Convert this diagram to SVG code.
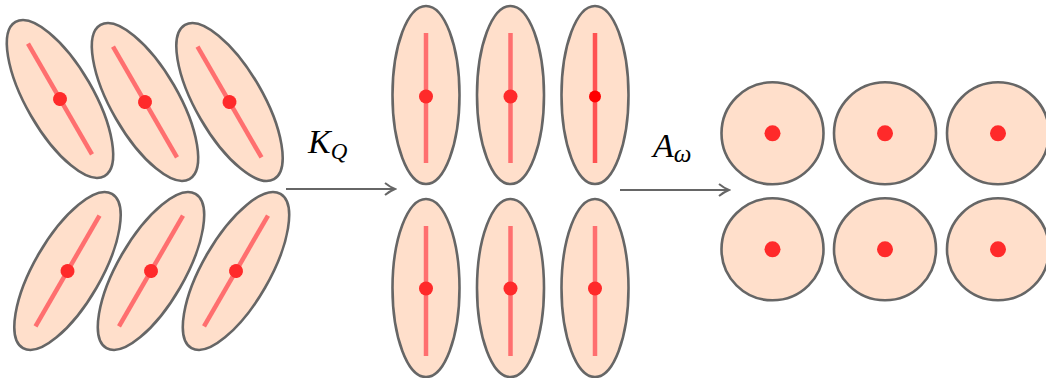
<svg xmlns="http://www.w3.org/2000/svg" width="1046" height="378" viewBox="0 0 1046 378">
<defs>
<style>
.cell{fill:#ffdfcb;stroke:#666;stroke-width:2.6}
.axis{stroke:#ff6f6f;stroke-width:4.5;fill:none}
.dot{fill:#ff2a2a}
.conn{stroke:#666;stroke-width:2;fill:none}
.lbl{font-family:"Liberation Serif","DejaVu Serif",serif;font-style:italic;fill:#000}
</style>
<marker id="arr" markerWidth="14" markerHeight="14" refX="12" refY="7" orient="auto" markerUnits="userSpaceOnUse">
<path d="M2,1 Q7,5 12,7 Q7,9 2,13" fill="none" stroke="#666" stroke-width="2"/>
</marker>
</defs>
<rect width="1046" height="378" fill="#fff"/>
<g id="tl1" transform="translate(60,99) rotate(-30)"><ellipse class="cell" rx="33.5" ry="89"/><line class="axis" x1="0" y1="-64" x2="0" y2="64"/><circle class="dot" r="7"/></g>
<g id="tl2" transform="translate(145,102) rotate(-30)"><ellipse class="cell" rx="33.5" ry="89"/><line class="axis" x1="0" y1="-64" x2="0" y2="64"/><circle class="dot" r="7"/></g>
<g id="tl3" transform="translate(229.5,102) rotate(-30)"><ellipse class="cell" rx="33.5" ry="89"/><line class="axis" x1="0" y1="-64" x2="0" y2="64"/><circle class="dot" r="7"/></g>
<g id="bl1" transform="translate(67.5,271) rotate(30)"><ellipse class="cell" rx="33.5" ry="89"/><line class="axis" x1="0" y1="-64" x2="0" y2="64"/><circle class="dot" r="7"/></g>
<g id="bl2" transform="translate(151,271) rotate(30)"><ellipse class="cell" rx="33.5" ry="89"/><line class="axis" x1="0" y1="-64" x2="0" y2="64"/><circle class="dot" r="7"/></g>
<g id="bl3" transform="translate(236,271) rotate(30)"><ellipse class="cell" rx="33.5" ry="89"/><line class="axis" x1="0" y1="-64" x2="0" y2="64"/><circle class="dot" r="7"/></g>
<g id="mt1" transform="translate(426,95)"><ellipse class="cell" rx="33.5" ry="89"/><line class="axis" x1="0" y1="-62" x2="0" y2="68"/><circle class="dot" cy="1.5" r="7"/></g>
<g id="mt2" transform="translate(510.5,95)"><ellipse class="cell" rx="33.5" ry="89"/><line class="axis" x1="0" y1="-62" x2="0" y2="68"/><circle class="dot" cy="1.5" r="7"/></g>
<g id="mt3" transform="translate(595,95)"><ellipse class="cell" rx="33.5" ry="89"/><line class="axis" x1="0" y1="-62" x2="0" y2="68" style="stroke:#ff5252"/><circle class="dot" cy="1.5" r="6" style="fill:#ff0000"/></g>
<g id="mb1" transform="translate(426,288)"><ellipse class="cell" rx="33.5" ry="89"/><line class="axis" x1="0" y1="-62" x2="0" y2="68"/><circle class="dot" cy="0.5" r="7"/></g>
<g id="mb2" transform="translate(510.5,288)"><ellipse class="cell" rx="33.5" ry="89"/><line class="axis" x1="0" y1="-62" x2="0" y2="68"/><circle class="dot" cy="0.5" r="7"/></g>
<g id="mb3" transform="translate(595,288)"><ellipse class="cell" rx="33.5" ry="89"/><line class="axis" x1="0" y1="-62" x2="0" y2="68"/><circle class="dot" cy="0.5" r="7"/></g>
<g id="ct1"><circle class="cell" cx="772.5" cy="133.3" r="51"/><circle class="dot" cx="772.5" cy="133.3" r="8"/></g>
<g id="ct2"><circle class="cell" cx="885" cy="133.3" r="51"/><circle class="dot" cx="885" cy="133.3" r="8"/></g>
<g id="ct3"><circle class="cell" cx="998" cy="133.3" r="51"/><circle class="dot" cx="998" cy="133.3" r="8"/></g>
<g id="cb1"><circle class="cell" cx="772.5" cy="249.3" r="51"/><circle class="dot" cx="772.5" cy="249.3" r="8"/></g>
<g id="cb2"><circle class="cell" cx="885" cy="249.3" r="51"/><circle class="dot" cx="885" cy="249.3" r="8"/></g>
<g id="cb3"><circle class="cell" cx="998" cy="249.3" r="51"/><circle class="dot" cx="998" cy="249.3" r="8"/></g>
<g id="connectors">
<line class="conn" x1="286" y1="189" x2="395" y2="189" marker-end="url(#arr)"/>
<line class="conn" x1="620" y1="190" x2="729" y2="190" marker-end="url(#arr)"/>
</g>
<g id="labels">
<text class="lbl" x="308" y="153" font-size="34">K<tspan font-size="23" dy="6">Q</tspan></text>
<text class="lbl" x="653" y="157" font-size="34">A<tspan font-size="25" dy="5">ω</tspan></text>
</g>
</svg>
